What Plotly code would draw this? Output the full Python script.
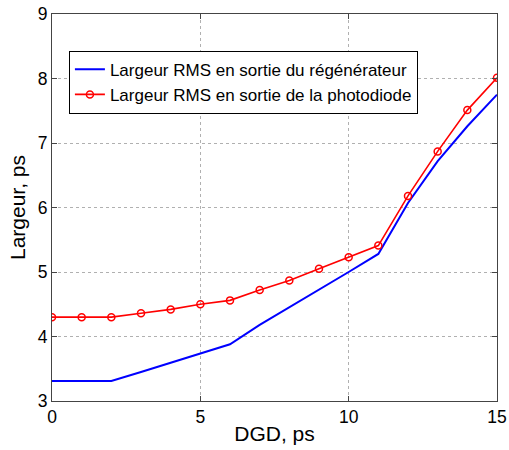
import plotly.graph_objects as go

# DGD values (ps)
dgd = [0, 1, 2, 3, 4, 5, 6, 7, 8, 9, 10, 11, 12, 13, 14, 15]
# RMS width at the regenerator output (ps)
largeur_regen = [3.31, 3.31, 3.31, 3.45, 3.59, 3.73, 3.88, 4.18, 4.45, 4.72,
                 5.00, 5.28, 6.07, 6.72, 7.26, 7.75]
# RMS width at the photodiode output (ps)
largeur_photo = [4.30, 4.30, 4.30, 4.36, 4.42, 4.50, 4.56, 4.72, 4.87, 5.05,
                 5.23, 5.41, 6.18, 6.87, 7.51, 8.01]

x_ticks = [0, 5, 10, 15]
y_ticks = [3, 4, 5, 6, 7, 8, 9]

font_family = "Liberation Sans, Arial, sans-serif"

fig = go.Figure()
fig.add_trace(go.Scatter(
    x=dgd, y=largeur_regen, mode="lines",
    name="Largeur RMS en sortie du régénérateur",
    line=dict(color="#0000ff", width=2),
))
fig.add_trace(go.Scatter(
    x=dgd, y=largeur_photo, mode="lines+markers",
    name="Largeur RMS en sortie de la photodiode",
    line=dict(color="#ff0000", width=1.6),
    marker=dict(symbol="circle-open", size=7, color="#ff0000",
                line=dict(width=1.5, color="#ff0000")),
))

axis_common = dict(
    showgrid=True, gridcolor="#b0b0b0", griddash="dot", gridwidth=1,
    showline=True, linecolor="#444444", linewidth=1, mirror="ticks",
    ticks="inside", ticklen=5, tickcolor="#444444",
    zeroline=False, automargin=False,
    tickfont=dict(family=font_family, size=17.5, color="black"),
)

fig.update_layout(
    width=509, height=450,
    margin=dict(l=52, r=12, t=14, b=49, autoexpand=False),
    paper_bgcolor="white", plot_bgcolor="white",
    font=dict(family=font_family, color="black"),
    xaxis=dict(range=[0, 15], tickvals=x_ticks,
               title=dict(text="DGD, ps", font=dict(size=21), standoff=0),
               **axis_common),
    yaxis=dict(range=[3, 9], tickvals=y_ticks,
               title=dict(text="Largeur, ps", font=dict(size=21), standoff=6),
               **axis_common),
    legend=dict(
        x=0.038, y=0.905, xanchor="left", yanchor="top",
        bgcolor="white", bordercolor="black", borderwidth=1,
        font=dict(family=font_family, size=17, color="black"),
        tracegroupgap=0, itemwidth=30,
    ),
    showlegend=True,
)

fig.write_html("out.html")
